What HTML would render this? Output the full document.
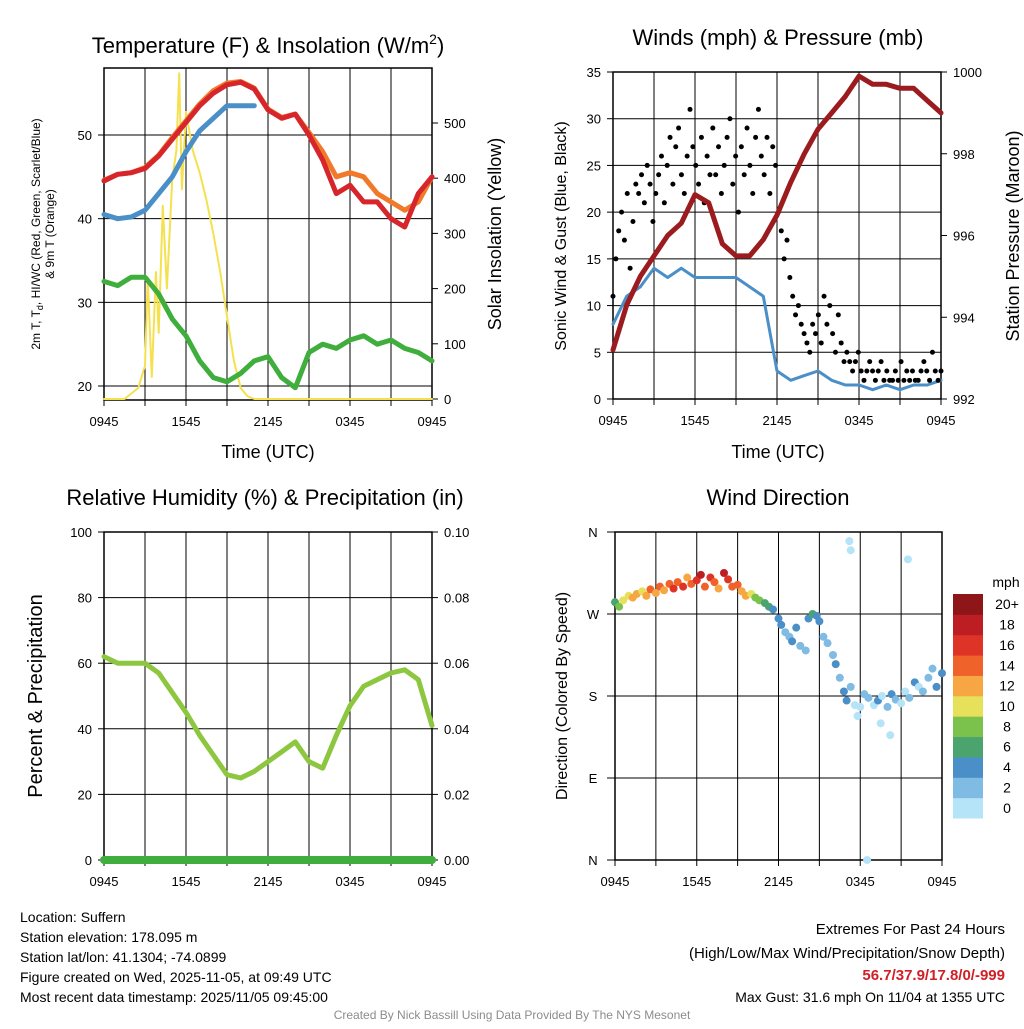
<!DOCTYPE html>
<html><head><meta charset="utf-8">
<style>
html,body{margin:0;padding:0;background:#fff;}
svg text{font-family:"Liberation Sans",sans-serif;fill:#000;}
</style></head>
<body>
<svg id="s" width="1024" height="1024" viewBox="0 0 1024 1024"></svg>
<script>
// ---- data ----
const hrs=[0,1,2,3,4,5,6,7,8,9,10,11,12,13,14,15,16,17,18,19,20,21,22,23,24];
const xTickLabels=["0945","1545","2145","0345","0945"];
const tempRed=[44.5,45.3,45.5,46,47.5,49.5,51.5,53.5,55,56,56.3,55.5,53,52,52.5,50,47,43,44,42,42,40,39,43,45];
const temp9m=[44.6,45.3,45.5,46.1,47.6,49.7,51.7,53.7,55.3,56.2,56.4,55.6,53.1,52.1,52.5,50.3,48,45,45.5,45,43,42,41,42,45];
const dewBlueHrs=[0,1,2,3,4,5,6,7,8,9,10,11];
const dewBlue=[40.5,40,40.2,41,43,45,48,50.5,52,53.5,53.5,53.5];
const dewGreen=[32.5,32,33,33,31,28,26,23,21,20.5,21.5,23,23.5,21,19.8,24,25,24.5,25.5,26,25,25.5,24.5,24,23];
const solarHrs=[0,1.5,2,2.5,3,3.2,3.5,3.8,4,4.3,4.6,5,5.3,5.5,5.7,6,6.5,7,7.5,8,8.5,9,9.5,10,10.5,11,24];
const solar=[0,0,10,20,60,220,40,230,120,350,200,400,450,590,380,520,450,410,360,300,230,150,70,20,5,0,0];
const windHrs=hrs;
const windSpeed=[8,11,12,14,13,14,13,13,13,13,12,11,3,2,2.5,3,2,1.5,1.5,1,1.5,1,1.5,1.5,2];
const gusts=[11,15,18,20,17,22,14,19,23,22,24,21,25,23,19,22,24,26,21,25,28,23,27,29,24,22,26,31,27,25,23,28,21,26,24,29,24,27,22,25,28,30,23,26,20,27,24,29,25,22,28,31,26,24,28,22,27,25,20,18,15,17,13,11,9,10,8,7,6,5,8,7,9,6,11,8,10,7,5,9,6,4,5,4,3,4,5,3,2,3,4,3,2,3,4,2,3,2,2,3,2,4,2,3,2,3,2,2,3,4,3,2,5,3,2,3];
const pressure=[993.2,994.3,995,995.5,996,996.3,997,996.8,995.8,995.5,995.5,995.9,996.5,997.3,998,998.6,999,999.4,999.9,999.7,999.7,999.6,999.6,999.3,999];
const rh=[62,60,60,60,57,51,45,38,32,26,25,27,30,33,36,30,28,38,47,53,55,57,58,55,41];
const precip=[0,0];
const dirHrs=[0,0.3,0.6,1,1.3,1.6,2,2.3,2.6,3,3.3,3.6,4,4.3,4.6,5,5.3,5.6,6,6.3,6.6,7,7.3,7.6,8,8.3,8.6,9,9.3,9.6,10,10.3,10.6,11,11.3,11.6,12,12.2,12.5,12.8,13,13.3,13.6,14,14.2,14.5,14.8,15,15.3,15.6,16,16.2,16.5,16.8,17,17.3,17.6,18,18.3,18.6,19,19.3,19.6,20,20.3,20.6,21,21.3,21.6,22,22.3,22.6,23,23.3,23.6,24,17.2,17.3,21.5,17.8,19.5,20.2,18.5];
const dirDeg=[283,278,285,290,288,292,295,290,297,293,300,296,303,298,305,300,310,303,307,313,300,310,305,298,315,308,300,302,295,290,292,288,285,282,278,275,265,258,250,245,240,255,235,230,265,270,268,262,245,238,225,215,200,185,175,190,170,168,182,178,170,175,180,168,182,176,172,185,178,195,190,185,200,210,190,205,350,340,330,158,150,137,0];
const dirSpd=[5,8,9,10,11,12,9,12,13,11,14,12,13,15,14,16,12,14,15,17,13,16,14,12,18,15,13,13,12,11,10,8,7,6,5,4,4,3,2,2,3,4,2,2,4,5,4,3,2,2,2,3,2,3,4,1,0,0,2,1,0,3,0,1,3,2,0,0,1,3,0,1,2,2,3,4,0,0,0,0,0,0,0];
const cbLabels=["0","2","4","6","8","10","12","14","16","18","20+"];
const cbColors=["#b5e3f8","#80bbe4","#4a8fc7","#4ba46d","#7bc24c","#e6e05a","#f6a744","#ef622a","#de3427","#bd1e24","#8e1518"];

const S=document.getElementById('s');
const NS="http://www.w3.org/2000/svg";
function el(tag,attrs,parent){const e=document.createElementNS(NS,tag);for(const k in attrs)e.setAttribute(k,attrs[k]);(parent||S).appendChild(e);return e;}
function txt(x,y,s,size,anchor,extra){const t=el('text',Object.assign({x:x,y:y,'font-size':size,'text-anchor':anchor||'middle'},extra||{}));t.textContent=s;return t;}
function lin(d0,d1,p0,p1){return v=>p0+(v-d0)/(d1-d0)*(p1-p0);}
function path(xs,ys,fx,fy,stroke,w,name){let d='';xs.forEach((x,i)=>{d+=(i?'L':'M')+fx(x).toFixed(1)+','+fy(ys[i]).toFixed(1);});const p=el('path',{d:d,fill:'none',stroke:stroke,'stroke-width':w,'stroke-linejoin':'round','stroke-linecap':'round'});return p;}

function frame(x0,x1,y0,y1,name,hlines){
  const g=el('g',{});
  for(let i=1;i<8;i++){const x=x0+(x1-x0)*i/8;el('line',{x1:x,x2:x,y1:y0,y2:y1,stroke:'#000','stroke-width':1},g);}
  hlines.forEach(y=>el('line',{x1:x0,x2:x1,y1:y,y2:y,stroke:'#000','stroke-width':1},g));
  el('rect',{x:x0,y:y0,width:x1-x0,height:y1-y0,fill:'none',stroke:'#000','stroke-width':1.5},g);
  for(let i=0;i<=8;i++){const x=x0+(x1-x0)*i/8;el('line',{x1:x,x2:x,y1:y1,y2:y1+6,stroke:'#000'},g);}
  for(let i=0;i<5;i++){const t=txt(x0+(x1-x0)*i/4,y1+26,xTickLabels[i],13);}
  return g;
}

// ---------- Panel 1 ----------
{const x0=104,x1=432,y0=68,y1=400;
 const fx=lin(0,24,x0,x1), fy=lin(20,50,386,135), fs=lin(0,500,399,123);
 const lt=[20,30,40,50], rt=[0,100,200,300,400,500];
 frame(x0,x1,y0,y1,'temperature-panel',lt.map(fy));
 lt.forEach(v=>{el('line',{x1:x0-6,x2:x0,y1:fy(v),y2:fy(v),stroke:'#000'});txt(x0-12,fy(v)+5,String(v),13,'end');});
 rt.forEach(v=>{el('line',{x1:x1,x2:x1+6,y1:fs(v),y2:fs(v),stroke:'#000'});txt(x1+12,fs(v)+5,String(v),13,'start');});
 path(solarHrs,solar,fx,fs,'#f5e14f',2,'solar-insolation-line');
 path(hrs,dewGreen,fx,fy,'#3fae3c',5,'dewpoint-line');
 path(dewBlueHrs,dewBlue,fx,fy,'#4a8fc7',5,'heat-index-line');
 path(hrs,temp9m,fx,fy,'#f07a2a',5,'temp-9m-line');
 path(hrs,tempRed,fx,fy,'#d7262b',5,'temp-2m-line');
 const t=txt(268,53,'Temperature (F) & Insolation (W/m',22);
 const ts=el('tspan',{'font-size':14,dy:-9});ts.textContent='2';t.appendChild(ts);
 const t2=el('tspan',{'font-size':22,dy:9});t2.textContent=')';t.appendChild(t2);
 txt(268,458,'Time (UTC)',18);
 const a=txt(0,0,'2m T, T',12,'middle',{transform:'translate(40,234) rotate(-90)'});
 const sub=el('tspan',{'font-size':9,dy:3});sub.textContent='d';a.appendChild(sub);
 const r=el('tspan',{'font-size':12,dy:-3});r.textContent=', HI/WC (Red, Green, Scarlet/Blue)';a.appendChild(r);
 txt(0,0,'& 9m T (Orange)',12,'middle',{transform:'translate(54,234) rotate(-90)'});
 txt(0,0,'Solar Insolation (Yellow)',18,'middle',{transform:'translate(501,234) rotate(-90)'});
}
// ---------- Panel 2 ----------
{const x0=613,x1=941,y0=72,y1=399;
 const fx=lin(0,24,x0,x1), fy=lin(0,35,y1,y0), fp=lin(992,1000,y1,y0);
 const lt=[0,5,10,15,20,25,30,35], rt=[992,994,996,998,1000];
 frame(x0,x1,y0,y1,'winds-panel',lt.map(fy));
 lt.forEach(v=>{el('line',{x1:x0-6,x2:x0,y1:fy(v),y2:fy(v),stroke:'#000'});txt(x0-12,fy(v)+5,String(v),13,'end');});
 rt.forEach(v=>{el('line',{x1:x1,x2:x1+6,y1:fp(v),y2:fp(v),stroke:'#000'});txt(x1+12,fp(v)+5,String(v),13,'start');});
 path(windHrs,windSpeed,fx,fy,'#4a8fc7',3,'wind-speed-line');
 gusts.forEach((g,i)=>{const c=el('circle',{cx:fx(i*24/(gusts.length-1)),cy:fy(g),r:2.5,fill:'#000'});
   
   });
 path(hrs,pressure,fx,fp,'#9b1b1e',5,'pressure-line');
 txt(778,45,'Winds (mph) & Pressure (mb)',22);
 txt(778,458,'Time (UTC)',18);
 txt(0,0,'Sonic Wind & Gust (Blue, Black)',16,'middle',{transform:'translate(566,236) rotate(-90)'});
 txt(0,0,'Station Pressure (Maroon)',18,'middle',{transform:'translate(1019,236) rotate(-90)'});
}
// ---------- Panel 3 ----------
{const x0=104,x1=432,y0=532,y1=860;
 const fx=lin(0,24,x0,x1), fy=lin(0,100,y1,y0), fr=lin(0,0.1,y1,y0);
 const lt=[0,20,40,60,80,100], rt=[0,0.02,0.04,0.06,0.08,0.1];
 frame(x0,x1,y0,y1,'humidity-panel',lt.map(fy));
 lt.forEach(v=>{el('line',{x1:x0-6,x2:x0,y1:fy(v),y2:fy(v),stroke:'#000'});txt(x0-12,fy(v)+5,String(v),13,'end');});
 rt.forEach(v=>{el('line',{x1:x1,x2:x1+6,y1:fr(v),y2:fr(v),stroke:'#000'});txt(x1+12,fr(v)+5,v.toFixed(2),13,'start');});
 path(hrs,rh,fx,fy,'#8dc63f',5,'relative-humidity-line');
 path([0,24],precip,fx,fr,'#3fae3c',8,'precipitation-line');
 txt(265,505,'Relative Humidity (%) & Precipitation (in)',22);
 txt(0,0,'Percent & Precipitation',20,'middle',{transform:'translate(42,696) rotate(-90)'});
}
// ---------- Panel 4 ----------
{const x0=615,x1=942,y0=532,y1=860;
 const fx=lin(0,24,x0,x1), fy=lin(0,360,y1,y0);
 const lt=[0,90,180,270,360], ll=['N','E','S','W','N'];
 frame(x0,x1,y0,y1,'wind-direction-panel',lt.map(fy));
 lt.forEach((v,i)=>{el('line',{x1:x0-8,x2:x0,y1:fy(v),y2:fy(v),stroke:'#000'});txt(x0-22,fy(v)+5,ll[i],13,'middle');});
 dirHrs.forEach((h,i)=>{const ci=Math.min(10,Math.max(0,Math.round(dirSpd[i]/2)));
   const c=el('circle',{cx:fx(h),cy:fy(dirDeg[i]),r:4,fill:cbColors[ci]});
   
   });
 txt(778,505,'Wind Direction',22);
 txt(0,0,'Direction (Colored By Speed)',16,'middle',{transform:'translate(567,696) rotate(-90)'});
 const cb=el('g',{});
 const h=224/11;
 cbColors.forEach((c,i)=>{const y=818-(i+1)*h;el('rect',{x:953,y:y,width:30,height:h+0.5,fill:c},cb);txt(1007,y+h/2+5,cbLabels[i],14,'middle');});
 txt(1006,587,'mph',14,'middle');
}
// ---------- Footer ----------
const L=["Location: Suffern","Station elevation: 178.095 m","Station lat/lon: 41.1304; -74.0899","Figure created on Wed, 2025-11-05, at 09:49 UTC","Most recent data timestamp: 2025/11/05 09:45:00"];
L.forEach((s,i)=>{const t=txt(20,922+i*20,s,14,'start');});
txt(1005,934,'Extremes For Past 24 Hours',15,'end');
txt(1005,958,'(High/Low/Max Wind/Precipitation/Snow Depth)',15,'end');
const ex=txt(1005,980,'56.7/37.9/17.8/0/-999',15,'end',{'font-weight':'bold'});ex.style.fill='#d11f26';
txt(1005,1002,'Max Gust: 31.6 mph On 11/04 at 1355 UTC',14,'end');
const cr=txt(512,1019,'Created By Nick Bassill Using Data Provided By The NYS Mesonet',12,'middle');cr.style.fill='#8c8c8c';
</script>
</body></html>
